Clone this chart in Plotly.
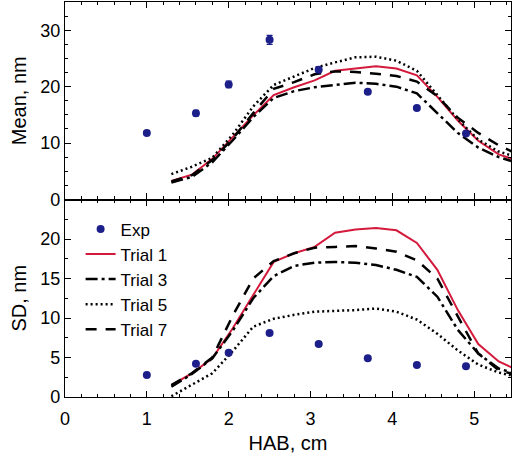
import plotly.graph_objects as go
from plotly.subplots import make_subplots

# Experimental data
exp_x = [1.0, 1.6, 2.0, 2.5, 3.1, 3.7, 4.3, 4.9]
exp_mean = [11.8, 15.3, 20.4, 28.3, 23.0, 19.1, 16.2, 11.7]
exp_mean_err = [0.3, 0.5, 0.6, 0.8, 0.4, 0.3, 0.3, 0.3]
exp_sd = [2.8, 4.2, 5.6, 8.1, 6.7, 4.9, 4.05, 3.9]

# Model curves
sim_x = [1.3, 1.55, 1.8, 2.05, 2.3, 2.55, 2.8, 3.05, 3.3, 3.55, 3.8, 4.05, 4.3, 4.55, 4.8, 5.05, 5.3, 5.55]

mean_t1 = [3.3, 4.4, 7.2, 11.0, 14.9, 18.5, 19.9, 21.1, 22.8, 23.2, 23.6, 23.2, 22.0, 18.2, 14.0, 10.4, 8.0, 6.8]
mean_t3 = [3.0, 4.0, 6.6, 10.5, 14.6, 18.0, 19.2, 19.9, 20.3, 20.7, 20.5, 20.0, 18.8, 15.3, 11.8, 9.2, 7.5, 6.4]
mean_t5 = [4.5, 5.8, 7.4, 11.5, 16.5, 20.3, 21.8, 23.3, 24.3, 25.2, 25.3, 24.6, 22.8, 18.6, 14.2, 10.6, 8.5, 7.4]
mean_t7 = [3.2, 4.3, 7.0, 10.8, 15.3, 19.6, 20.8, 22.2, 22.7, 22.6, 22.3, 21.9, 20.9, 18.3, 14.5, 11.8, 9.6, 7.9]

sd_t1 = [1.5, 3.0, 4.9, 8.7, 12.9, 17.1, 18.2, 19.0, 20.8, 21.2, 21.4, 21.1, 19.5, 16.1, 11.0, 6.7, 4.5, 3.3]
sd_t3 = [1.3, 2.9, 4.9, 8.4, 12.5, 15.3, 16.6, 17.0, 17.1, 17.0, 16.7, 16.1, 15.2, 12.7, 8.5, 5.5, 3.6, 2.8]
sd_t5 = [0.1, 1.6, 3.0, 5.8, 8.9, 9.9, 10.4, 10.8, 10.9, 11.0, 11.2, 10.8, 9.8, 8.0, 5.9, 4.1, 3.1, 2.5]
sd_t7 = [1.5, 3.0, 5.0, 10.3, 15.0, 17.2, 18.2, 18.9, 19.0, 19.1, 18.8, 18.4, 17.3, 15.0, 10.2, 5.5, 3.4, 2.7]

RED = "#d41a3c"
NAVY = "#1c1f8a"
FONT = "Liberation Sans, Arial, sans-serif"

fig = make_subplots(rows=2, cols=1, shared_xaxes=True, vertical_spacing=0)

styles = [
    ("Trial 1", mean_t1, sd_t1, dict(color=RED, width=2, dash="solid")),
    ("Trial 3", mean_t3, sd_t3, dict(color="black", width=2.5, dash="12px,4px,3px,4px")),
    ("Trial 5", mean_t5, sd_t5, dict(color="black", width=2.5, dash="2px,3px")),
    ("Trial 7", mean_t7, sd_t7, dict(color="black", width=2.5, dash="11px,9px")),
]

for i, (name, m, s, line) in enumerate(styles):
    fig.add_trace(go.Scatter(x=sim_x, y=m, mode="lines", line=line, name=name,
                             showlegend=False), row=1, col=1)
    fig.add_trace(go.Scatter(x=sim_x, y=s, mode="lines", line=line, name=name,
                             showlegend=True, legendrank=i + 2), row=2, col=1)

fig.add_trace(go.Scatter(x=exp_x, y=exp_mean, mode="markers", name="Exp",
                         marker=dict(color=NAVY, size=8),
                         error_y=dict(type="data", array=exp_mean_err, color=NAVY,
                                      thickness=1.2, width=3),
                         showlegend=False), row=1, col=1)
fig.add_trace(go.Scatter(x=exp_x, y=exp_sd, mode="markers", name="Exp",
                         marker=dict(color=NAVY, size=8),
                         showlegend=True, legendrank=1), row=2, col=1)

axis_common = dict(showline=True, linecolor="black", linewidth=1.2, mirror="allticks",
                   ticks="inside", ticklen=6, tickwidth=1.2, tickcolor="black",
                   showgrid=False, zeroline=False, automargin=False,
                   tickfont=dict(family=FONT, size=18, color="black"))

fig.update_xaxes(range=[0, 5.45], dtick=1, tick0=0,
                 minor=dict(dtick=0.2, ticks="inside", ticklen=3, tickcolor="black"),
                 **axis_common)
fig.update_xaxes(showticklabels=False, row=1, col=1)
fig.update_xaxes(ticklabelstandoff=5,
                 title=dict(text="HAB, cm", font=dict(family=FONT, size=20, color="black"),
                            standoff=8), row=2, col=1)

fig.update_yaxes(range=[0, 35], dtick=10, tick0=0,
                 minor=dict(dtick=2.5, ticks="inside", ticklen=3, tickcolor="black"),
                 title=dict(text="Mean, nm", font=dict(family=FONT, size=20, color="black"),
                            standoff=8),
                 row=1, col=1, **axis_common)
fig.update_yaxes(range=[0, 25], dtick=5, tick0=0, tickvals=[0, 5, 10, 15, 20],
                 minor=dict(dtick=2.5, ticks="inside", ticklen=3, tickcolor="black"),
                 title=dict(text="SD, nm", font=dict(family=FONT, size=20, color="black"),
                            standoff=8),
                 row=2, col=1, **axis_common)

fig.update_layout(
    width=512, height=460,
    margin=dict(l=65, r=1, t=2, b=63),
    paper_bgcolor="white", plot_bgcolor="white",
    font=dict(family=FONT, color="black"),
    legend=dict(x=0.035, y=0.47, xanchor="left", yanchor="top",
                bgcolor="rgba(0,0,0,0)", font=dict(family=FONT, size=17, color="black"),
                itemwidth=30, tracegroupgap=0),
)

fig.write_html("out.html", config={"displayModeBar": False},
               post_script="document.body.style.margin='0';")
